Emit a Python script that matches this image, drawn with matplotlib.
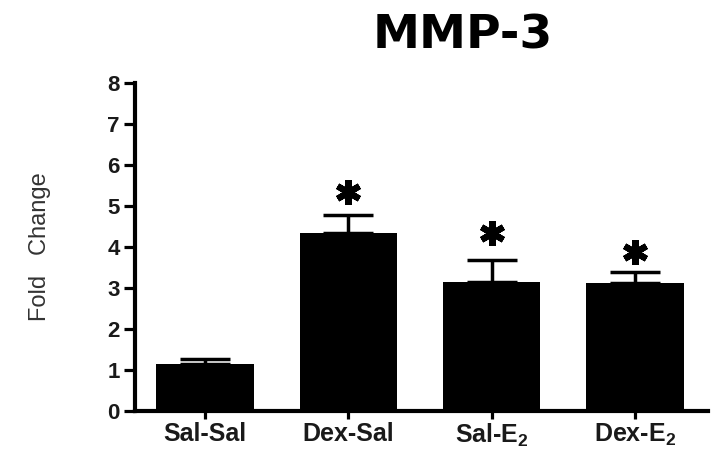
import matplotlib
matplotlib.use("Agg")
import matplotlib.pyplot as plt

groups = ["Sal-Sal", "Dex-Sal", "Sal-E$_2$", "Dex-E$_2$"]
fold_change = [1.15, 4.34, 3.15, 3.12]
sem = [0.12, 0.44, 0.53, 0.27]
star_y = [None, 5.34, 4.34, 3.88]
yticks = [0, 1, 2, 3, 4, 5, 6, 7, 8]

plt.rcParams["mathtext.fontset"] = "custom"
plt.rcParams["mathtext.rm"] = "Liberation Sans:bold"
plt.rcParams["mathtext.bf"] = "Liberation Sans:bold"
plt.rcParams["mathtext.default"] = "bf"

fig = plt.figure(figsize=(7.18, 4.57), dpi=100)
ax = fig.add_axes([0.188, 0.101, 0.798, 0.718])

x = list(range(len(groups)))
ax.bar(x, fold_change, width=0.68, color="black")
ax.errorbar(x, fold_change, yerr=[[0] * len(sem), sem], fmt="none",
            ecolor="black", elinewidth=2.5, capsize=18, capthick=2.5)

for xi, sy in zip(x, star_y):
    if sy is not None:
        ax.plot(xi, sy, marker=(6, 2, 0), markersize=18, mew=4.5, color="black")

ax.set_xlim(-0.49, 3.51)
ax.set_ylim(0, 8)
ax.set_xticks(x)
ax.set_xticklabels(groups, fontfamily="Liberation Sans", fontweight="bold",
                   fontsize=18, color="#1a1a1a")
ax.set_yticks(yticks)
ax.set_yticklabels([str(t) for t in yticks], fontfamily="Liberation Sans",
                   fontweight="bold", fontsize=16, color="#1a1a1a")
ax.tick_params(axis="y", direction="out", length=8, width=2.3, pad=3)
ax.tick_params(axis="x", direction="out", length=6, width=2.3, pad=2)

for side in ["top", "right"]:
    ax.spines[side].set_visible(False)
for side in ["left", "bottom"]:
    ax.spines[side].set_linewidth(3)

ax.set_ylabel("Fold   Change", fontfamily="Liberation Sans", fontsize=17,
              color="#333333")
ax.yaxis.set_label_coords(-0.147, 0.5)

fig.text(0.645, 0.921, "MMP-3", fontfamily="DejaVu Sans", fontweight="bold",
         fontsize=34, ha="center", va="center")

fig.savefig("out.png", dpi=100)
